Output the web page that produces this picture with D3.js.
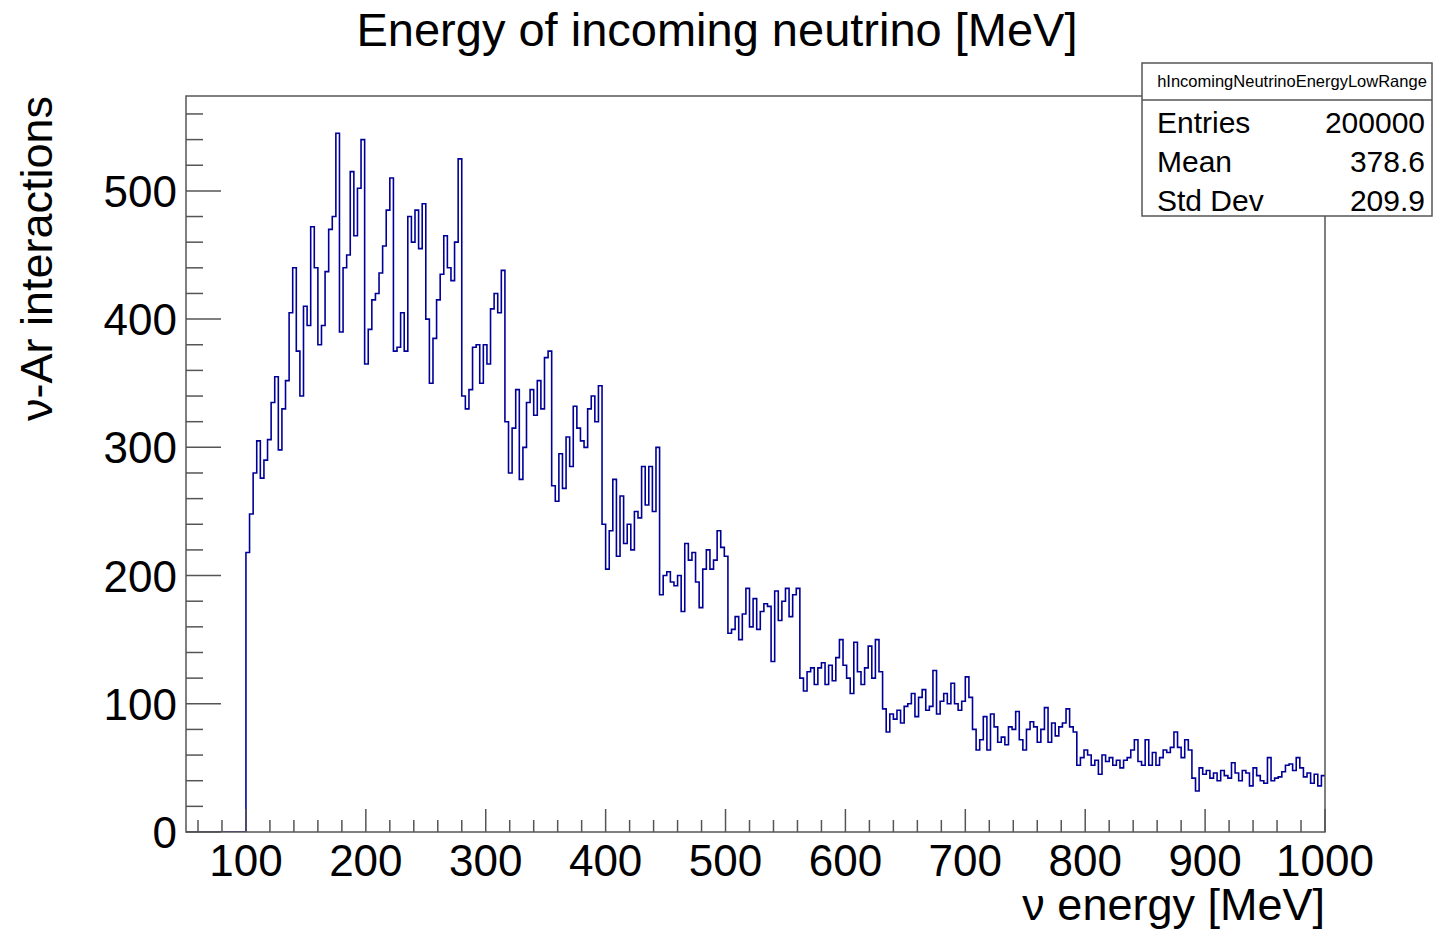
<!DOCTYPE html>
<html>
<head>
<meta charset="utf-8">
<script src="https://cdn.jsdelivr.net/npm/d3@7"></script>
<style>
  html, body { margin: 0; padding: 0; background: #fff; }
  svg { display: block; font-family: "Liberation Sans", Arial, Helvetica, sans-serif; }
</style>
</head>
<body>
<svg id="chart" width="1441" height="931"></svg>
<script>
// histogram: 3 MeV bins starting at 100 MeV, counts
const binStart = 100;
const binWidth = 3;

// 100 - 250 MeV
const countsA = [218, 248, 280, 305, 276, 290, 306, 335, 355, 298,
                 330, 352, 405, 440, 375, 340, 410, 395, 472, 440,
                 380, 395, 437, 470, 480, 545, 390, 440, 450, 515,
                 465, 502, 540, 365, 392, 415, 420, 436, 457, 485,
                 510, 375, 378, 405, 375, 480, 460, 485, 455, 490];
// 250 - 400 MeV
const countsB = [400, 350, 385, 415, 435, 465, 440, 430, 460, 525,
                 340, 330, 345, 378, 380, 350, 380, 365, 408, 420,
                 405, 438, 320, 280, 315, 345, 275, 300, 335, 345,
                 325, 352, 330, 370, 375, 270, 258, 295, 268, 308,
                 285, 332, 315, 305, 300, 330, 340, 320, 348, 240];
// 400 - 550 MeV
const countsC = [205, 235, 275, 215, 262, 225, 240, 220, 250, 245,
                 285, 255, 285, 250, 300, 185, 200, 203, 195, 192,
                 200, 172, 225, 212, 218, 195, 175, 205, 220, 205,
                 212, 235, 222, 215, 155, 158, 168, 150, 170, 190,
                 160, 182, 158, 172, 178, 176, 133, 188, 165, 180];
// 550 - 700 MeV
const countsD = [190, 168, 185, 190, 120, 110, 125, 128, 115, 128,
                 132, 115, 130, 118, 136, 150, 130, 120, 108, 148,
                 125, 115, 128, 145, 120, 150, 125, 96, 78, 92,
                 88, 95, 85, 98, 100, 108, 90, 105, 111, 95,
                 98, 126, 92, 102, 108, 100, 116, 100, 95, 102];
// 700 - 850 MeV
const countsE = [121, 105, 80, 64, 72, 90, 64, 92, 82, 70,
                 74, 68, 82, 80, 94, 72, 64, 80, 86, 82,
                 70, 80, 97, 70, 85, 75, 82, 85, 96, 82,
                 78, 52, 58, 64, 60, 52, 56, 45, 60, 55,
                 58, 52, 56, 50, 56, 58, 64, 72, 55, 52];
// 850 - 1000 MeV
const countsF = [72, 52, 62, 52, 58, 64, 62, 66, 78, 66,
                 58, 72, 64, 42, 32, 50, 45, 48, 42, 46,
                 40, 48, 44, 42, 54, 46, 40, 48, 46, 36,
                 50, 44, 40, 38, 58, 40, 42, 43, 47, 52,
                 53, 48, 58, 50, 43, 46, 38, 45, 36, 44];

const counts = [].concat(countsA, countsB, countsC, countsD, countsE, countsF);

const xMajor = d3.range(100, 1001, 100);
const xMinor = d3.range(60, 1001, 20);
const yMajor = d3.range(0, 501, 100);
const yMinor = d3.range(0, 561, 20);

const statsName = 'hIncomingNeutrinoEnergyLowRange';
const statsRows = [['Entries', '200000'], ['Mean', '378.6'], ['Std Dev', '209.9']];

const frame = { left: 186, right: 1325, top: 96, bottom: 832 };
const lineColor = '#000099';
const axisColor = '#555';

const svg = d3.select('#chart');

const x = d3.scaleLinear().domain([50, 1000]).range([frame.left, frame.right]);
const y = d3.scaleLinear().domain([0, 574]).range([frame.bottom, frame.top]);

// step points: empty range below 100 MeV, then every bin, closing at 1000
const pts = [[50, 0]];
counts.forEach((c, i) => pts.push([binStart + i * binWidth, c]));
pts.push([binStart + counts.length * binWidth, counts[counts.length - 1]]);

svg.append('defs').append('clipPath').attr('id', 'frameClip')
  .append('rect')
  .attr('x', frame.left).attr('y', frame.top)
  .attr('width', frame.right - frame.left).attr('height', frame.bottom - frame.top);

const line = d3.line()
  .x(d => x(d[0]))
  .y(d => y(d[1]))
  .curve(d3.curveStepAfter);

svg.append('path')
  .datum(pts)
  .attr('clip-path', 'url(#frameClip)')
  .attr('d', line)
  .attr('fill', 'none')
  .attr('stroke', lineColor)
  .attr('stroke-width', 1.6);

// frame
svg.append('rect')
  .attr('x', frame.left).attr('y', frame.top)
  .attr('width', frame.right - frame.left).attr('height', frame.bottom - frame.top)
  .attr('fill', 'none')
  .attr('stroke', axisColor)
  .attr('stroke-width', 1.5);

const axisG = svg.append('g').attr('stroke', axisColor).attr('stroke-width', 1.5);

// x ticks (bottom, pointing up)
xMinor.forEach(v => {
  const major = xMajor.includes(v);
  axisG.append('line')
    .attr('x1', x(v)).attr('x2', x(v))
    .attr('y1', frame.bottom).attr('y2', frame.bottom - (major ? 23 : 12));
});

// y ticks (left, pointing right)
yMinor.forEach(v => {
  const major = yMajor.includes(v);
  axisG.append('line')
    .attr('x1', frame.left).attr('x2', frame.left + (major ? 35 : 17))
    .attr('y1', y(v)).attr('y2', y(v));
});

svg.append('g').selectAll('text')
  .data(xMajor)
  .enter().append('text')
  .attr('x', d => x(d))
  .attr('y', 876)
  .attr('text-anchor', 'middle')
  .style('font-size', '44px')
  .text(d => d);

svg.append('g').selectAll('text')
  .data(yMajor)
  .enter().append('text')
  .attr('x', 177)
  .attr('y', d => y(d) + 16)
  .attr('text-anchor', 'end')
  .style('font-size', '44px')
  .text(d => d);

// title and axis titles
svg.append('text')
  .attr('x', 717).attr('y', 46)
  .attr('text-anchor', 'middle')
  .style('font-size', '47px')
  .text('Energy of incoming neutrino [MeV]');

svg.append('text')
  .attr('x', frame.right).attr('y', 920)
  .attr('text-anchor', 'end')
  .style('font-size', '45px')
  .text('\u03BD energy [MeV]');

svg.append('text')
  .attr('transform', `translate(52, ${frame.top}) rotate(-90)`)
  .attr('text-anchor', 'end')
  .style('font-size', '45px')
  .text('\u03BD-Ar interactions');

// stats box
const stats = svg.append('g').attr('transform', 'translate(1142, 63)');
stats.append('rect')
  .attr('width', 290).attr('height', 153)
  .attr('fill', '#fff')
  .attr('stroke', axisColor)
  .attr('stroke-width', 1.5);
stats.append('line')
  .attr('x1', 0).attr('x2', 290)
  .attr('y1', 37).attr('y2', 37)
  .attr('stroke', axisColor)
  .attr('stroke-width', 1.5);
stats.append('text')
  .attr('x', 150).attr('y', 24)
  .attr('text-anchor', 'middle')
  .style('font-size', '16.5px')
  .text(statsName);

statsRows.forEach((r, i) => {
  stats.append('text')
    .attr('x', 15).attr('y', 70 + i * 39)
    .style('font-size', '30px')
    .text(r[0]);
  stats.append('text')
    .attr('x', 283).attr('y', 70 + i * 39)
    .attr('text-anchor', 'end')
    .style('font-size', '30px')
    .text(r[1]);
});
</script>
</body>
</html>
